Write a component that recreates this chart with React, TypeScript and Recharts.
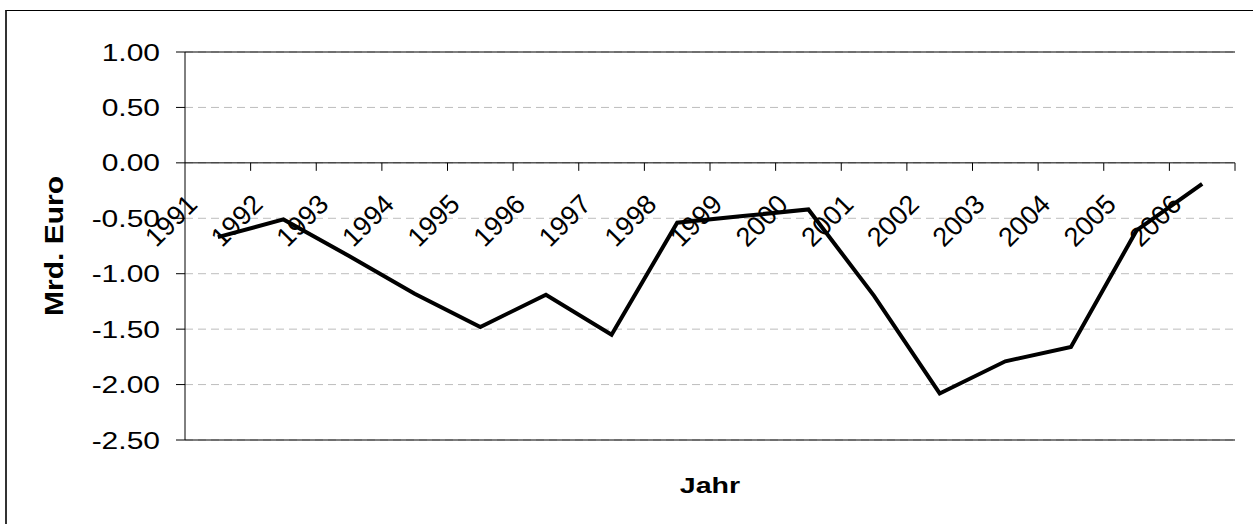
import { LineChart, Line, XAxis, YAxis, CartesianGrid, ReferenceLine, Label } from 'recharts';

const years = ['1991', '1992', '1993', '1994', '1995', '1996', '1997', '1998', '1999', '2000', '2001', '2002', '2003', '2004', '2005', '2006'];
const saldo = [-0.67, -0.51, -0.84, -1.18, -1.48, -1.19, -1.55, -0.54, -0.48, -0.42, -1.2, -2.08, -1.79, -1.66, -0.61, -0.19];
const yTicks = [1, 0.5, 0, -0.5, -1, -1.5, -2, -2.5];

const data = years.map((year, i) => ({ year, saldo: saldo[i] }));

const W = 1253;
const H = 524;
const TOP = 52;
const RIGHT = 18;
const Y_AXIS_W = 185;
const X_AXIS_H = 84;
const PLOT_W = W - Y_AXIS_W - RIGHT;
const PLOT_H = H - TOP - X_AXIS_H;
const BAND = PLOT_W / years.length;
const Y_MIN = -2.5;
const Y_MAX = 1;
const FONT = '"Liberation Sans", Arial, sans-serif';

// the category axis crosses at value 0, not at the bottom of the plot
const zeroY = TOP + (PLOT_H * (Y_MAX - 0)) / (Y_MAX - Y_MIN);

function YearTick(props: any) {
  const { x, payload } = props;
  const edge = x + BAND / 2;
  return (
    <g>
      <line x1={edge} x2={edge} y1={zeroY} y2={zeroY + 8} stroke="#000" />
      <text
        transform={`translate(${x - 19},${zeroY + 43}) rotate(-45)`}
        textAnchor="end"
        fontSize={27}
        fontFamily={FONT}
        fill="#000"
      >
        {payload.value}
      </text>
    </g>
  );
}

function ValueTick(props: any) {
  const { x, y, payload } = props;
  return (
    <text
      transform={`translate(${x},${y + 8.5}) scale(1.25,1)`}
      textAnchor="end"
      fontSize={24}
      fontFamily={FONT}
      fill="#000"
    >
      {Number(payload.value).toFixed(2)}
    </text>
  );
}

export default function App() {
  return (
    <div style={{ position: 'absolute', left: 0, top: 0, width: W, height: H, overflow: 'hidden', background: '#fff' }}>
      <div
        style={{
          position: 'absolute',
          left: 5,
          top: 10,
          width: 1270,
          height: 540,
          borderTop: '1px solid #000',
          borderLeft: '2px solid #333',
        }}
      />
      <div style={{ position: 'absolute', left: 0, top: 0 }}>
        <LineChart width={W} height={H} data={data} margin={{ top: TOP, right: RIGHT, bottom: 0, left: 0 }}>
          <CartesianGrid vertical={false} stroke="#bdbdbd" strokeDasharray="8 5" />
          <XAxis
            dataKey="year"
            scale="band"
            height={X_AXIS_H}
            axisLine={false}
            tickLine={false}
            interval={0}
            tick={<YearTick />}
          >
            <Label
              content={(p: any) => (
                <text
                  transform={`translate(${p.viewBox.x + p.viewBox.width / 2},${p.viewBox.y + 53}) scale(1.3,1)`}
                  textAnchor="middle"
                  fontSize={22}
                  fontWeight="bold"
                  fontFamily={FONT}
                  fill="#000"
                >
                  Jahr
                </text>
              )}
            />
          </XAxis>
          <YAxis
            width={Y_AXIS_W}
            domain={[Y_MIN, Y_MAX]}
            ticks={yTicks}
            interval={0}
            axisLine={{ stroke: '#000' }}
            tickLine={{ stroke: '#000' }}
            tickSize={9}
            tickMargin={16}
            tick={<ValueTick />}
          >
            <Label
              content={(p: any) => (
                <text
                  transform={`translate(${p.viewBox.x + 63},${p.viewBox.y + p.viewBox.height / 2}) rotate(-90) scale(1,0.84)`}
                  textAnchor="middle"
                  fontSize={30}
                  fontWeight="bold"
                  fontFamily={FONT}
                  fill="#000"
                >
                  Mrd. Euro
                </text>
              )}
            />
          </YAxis>
          <YAxis
            yAxisId="r"
            orientation="right"
            width={0}
            domain={[Y_MIN, Y_MAX]}
            tick={false}
            tickLine={false}
            axisLine={{ stroke: '#888', strokeWidth: 2 }}
          />
          <ReferenceLine y={Y_MAX} stroke="#000" />
          <ReferenceLine y={Y_MIN} stroke="#000" />
          <ReferenceLine y={0} stroke="#000" />
          <Line
            type="linear"
            dataKey="saldo"
            stroke="#000"
            strokeWidth={4}
            dot={false}
            isAnimationActive={false}
          />
        </LineChart>
      </div>
    </div>
  );
}
